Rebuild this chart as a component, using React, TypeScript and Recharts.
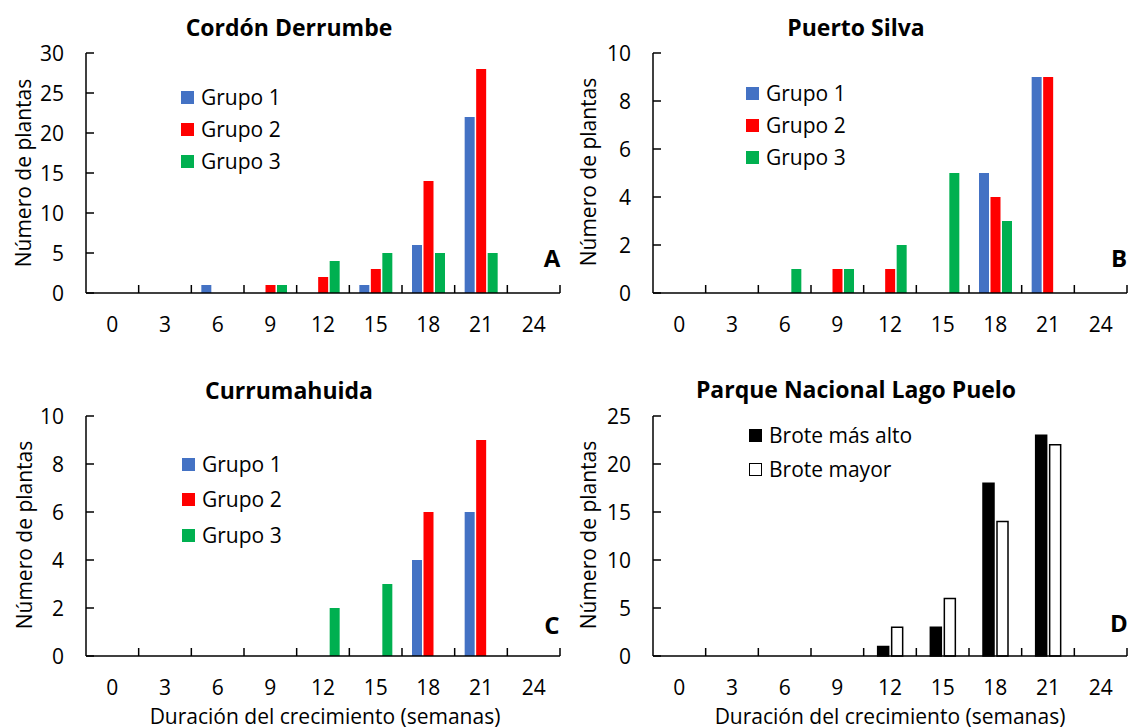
import React from 'react';
import { BarChart, Bar, XAxis, YAxis } from 'recharts';

// semanas (categorías del eje x)
const semanas = ['0', '3', '6', '9', '12', '15', '18', '21', '24'];

// A - Cordón Derrumbe
const cordonG1 = [0, 0, 1, 0, 0, 1, 6, 22, 0];
const cordonG2 = [0, 0, 0, 1, 2, 3, 14, 28, 0];
const cordonG3 = [0, 0, 0, 1, 4, 5, 5, 5, 0];

// B - Puerto Silva
const silvaG1 = [0, 0, 0, 0, 0, 0, 5, 9, 0];
const silvaG2 = [0, 0, 0, 1, 1, 0, 4, 9, 0];
const silvaG3 = [0, 0, 1, 1, 2, 5, 3, 0, 0];

// C - Currumahuida
const currG1 = [0, 0, 0, 0, 0, 0, 4, 6, 0];
const currG2 = [0, 0, 0, 0, 0, 0, 6, 9, 0];
const currG3 = [0, 0, 0, 0, 2, 3, 0, 0, 0];

// D - Parque Nacional Lago Puelo
const pueloAlto = [0, 0, 0, 0, 1, 3, 18, 23, 0];
const pueloMayor = [0, 0, 0, 0, 3, 6, 14, 22, 0];

const grupos = ['Grupo 1', 'Grupo 2', 'Grupo 3'];
const brotes = ['Brote más alto', 'Brote mayor'];

const FONT = "'Open Sans', sans-serif";
const FS = 21;
const BLUE = '#4472C4';
const RED = '#FF0000';
const GREEN = '#00B050';

const build = (series: number[][]) =>
  semanas.map((s, i) => {
    const row: any = { semana: s };
    series.forEach((vals, k) => (row['s' + k] = vals[i]));
    return row;
  });

const PLOT_W = 474;
const PLOT_H = 240;
const TOP_PAD = 20;

const makeXTick = (band: number) => (props: any) => {
  const { x, y, payload } = props;
  return (
    <g>
      <line x1={x + band / 2} x2={x + band / 2} y1={y} y2={y - 8} stroke="#000" strokeWidth={1.5} />
      <text x={x} y={y + 31} textAnchor="middle" dominantBaseline="central" fontSize={FS} fontFamily={FONT} fill="#000">
        {payload.value}
      </text>
    </g>
  );
};

const YTick = (props: any) => {
  const { x, y, payload } = props;
  return (
    <g>
      <line x1={x} x2={x + 8} y1={y} y2={y} stroke="#000" strokeWidth={1.5} />
      <text x={x - 22} y={y} textAnchor="end" dominantBaseline="central" fontSize={FS} fontFamily={FONT} fill="#000">
        {payload.value}
      </text>
    </g>
  );
};

interface PanelProps {
  left: number;
  top: number;
  series: number[][];
  fills: string[];
  stroke?: string;
  yTicks: number[];
  barSize: number;
  barGap: number;
}

function Panel({ left, top, series, fills, stroke, yTicks, barSize, barGap }: PanelProps) {
  const data = build(series);
  const band = PLOT_W / semanas.length;
  return (
    <div style={{ position: 'absolute', left: left - 80, top: top - TOP_PAD }}>
      <BarChart
        width={PLOT_W + 82}
        height={PLOT_H + TOP_PAD + 50}
        data={data}
        margin={{ top: TOP_PAD, right: 2, bottom: 0, left: 0 }}
        barSize={barSize}
        barGap={barGap}
      >
        <XAxis
          dataKey="semana"
          height={50}
          interval={0}
          tickLine={false}
          tickSize={0}
          tickMargin={0}
          axisLine={{ stroke: '#000', strokeWidth: 1.5 }}
          tick={makeXTick(band)}
        />
        <YAxis
          width={80}
          domain={[0, yTicks[yTicks.length - 1]]}
          ticks={yTicks}
          interval={0}
          tickLine={false}
          tickSize={0}
          tickMargin={0}
          axisLine={{ stroke: '#000', strokeWidth: 1.5 }}
          tick={YTick}
        />
        {series.map((_, k) => (
          <Bar
            key={k}
            dataKey={'s' + k}
            fill={fills[k]}
            stroke={stroke}
            strokeWidth={stroke ? 1.5 : 0}
            isAnimationActive={false}
          />
        ))}
      </BarChart>
    </div>
  );
}

const Txt = ({ x, y, size = FS, bold = false, rotate = false, children }: any) => (
  <div
    style={{
      position: 'absolute',
      left: x,
      top: y,
      transform: `translate(-50%, -50%)${rotate ? ' rotate(-90deg)' : ''}`,
      whiteSpace: 'nowrap',
      fontSize: size,
      fontWeight: bold ? 700 : 400,
      lineHeight: 1,
      fontFamily: FONT,
      color: '#000',
    }}
  >
    {children}
  </div>
);

const LegendBox = ({ x, y, step, names, fills, outline }: any) => (
  <div style={{ position: 'absolute', left: x, top: y - 14 }}>
    {names.map((n: string, i: number) => (
      <div key={n} style={{ display: 'flex', alignItems: 'center', height: 28, marginBottom: step - 28 }}>
        <div
          style={{
            width: outline ? 11 : 13,
            height: outline ? 11 : 13,
            background: fills[i],
            border: outline ? '1.5px solid #000' : 'none',
            marginRight: 7,
          }}
        />
        <span style={{ fontFamily: FONT, fontSize: FS, lineHeight: 1 }}>{n}</span>
      </div>
    ))}
  </div>
);

export default function App() {
  return (
    <div style={{ position: 'absolute', left: 0, top: 0, width: 1129, height: 728, background: '#fff', overflow: 'hidden' }}>
      <Panel left={86} top={53} series={[cordonG1, cordonG2, cordonG3]} fills={[BLUE, RED, GREEN]}
        yTicks={[0, 5, 10, 15, 20, 25, 30]} barSize={10} barGap={1.5} />
      <Panel left={653} top={53} series={[silvaG1, silvaG2, silvaG3]} fills={[BLUE, RED, GREEN]}
        yTicks={[0, 2, 4, 6, 8, 10]} barSize={10} barGap={1.5} />
      <Panel left={86} top={416} series={[currG1, currG2, currG3]} fills={[BLUE, RED, GREEN]}
        yTicks={[0, 2, 4, 6, 8, 10]} barSize={10} barGap={1.5} />
      <Panel left={653} top={416} series={[pueloAlto, pueloMayor]} fills={['#000', '#fff']} stroke="#000"
        yTicks={[0, 5, 10, 15, 20, 25]} barSize={11} barGap={3} />

      <Txt x={289} y={27} size={23} bold>Cordón Derrumbe</Txt>
      <Txt x={856} y={27} size={23} bold>Puerto Silva</Txt>
      <Txt x={289} y={390} size={23} bold>Currumahuida</Txt>
      <Txt x={856} y={389} size={23} bold>Parque Nacional Lago Puelo</Txt>

      <Txt x={23} y={173} rotate>Número de plantas</Txt>
      <Txt x={588} y={172} rotate>Número de plantas</Txt>
      <Txt x={24} y={535} rotate>Número de plantas</Txt>
      <Txt x={588} y={535} rotate>Número de plantas</Txt>

      <Txt x={325} y={716}>Duración del crecimiento (semanas)</Txt>
      <Txt x={890} y={716}>Duración del crecimiento (semanas)</Txt>

      <Txt x={552} y={258} size={24} bold>A</Txt>
      <Txt x={1119} y={258} size={24} bold>B</Txt>
      <Txt x={552} y={625} size={24} bold>C</Txt>
      <Txt x={1119} y={623} size={24} bold>D</Txt>

      <LegendBox x={181} y={97} step={32} names={grupos} fills={[BLUE, RED, GREEN]} />
      <LegendBox x={746} y={93} step={32} names={grupos} fills={[BLUE, RED, GREEN]} />
      <LegendBox x={182} y={464} step={35.5} names={grupos} fills={[BLUE, RED, GREEN]} />
      <LegendBox x={749} y={435} step={34} names={brotes} fills={['#000', '#fff']} outline />
    </div>
  );
}
